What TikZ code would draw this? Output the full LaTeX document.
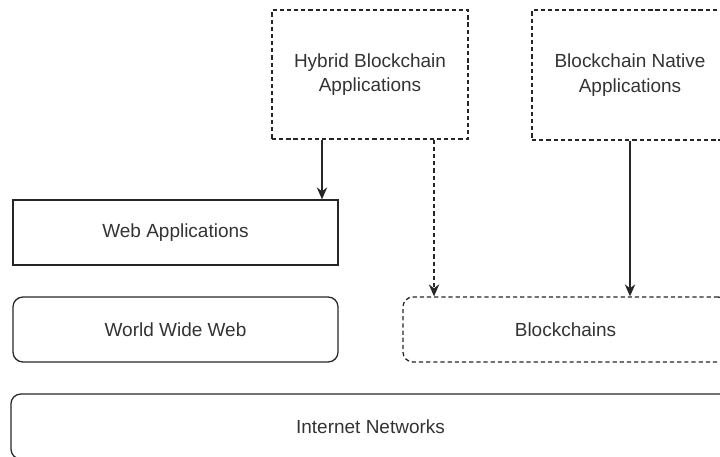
\documentclass[tikz,border=0pt]{standalone}
\usepackage{fontspec}
\setmainfont{Liberation Sans}
\usetikzlibrary{arrows.meta}

\tikzset{
  layerbox/.style={draw=black!85, line width=0.9pt, text=black!80, align=center,
    font=\fontsize{13.5}{17.5}\selectfont, inner sep=0pt},
  dashbox/.style={layerbox, dash pattern=on 3pt off 2.1pt},
  roundbox/.style={layerbox, rounded corners=0.25cm},
  feed/.style={draw=black!85, line width=0.9pt, -{Stealth[length=0.3cm,width=0.26cm]}},
}

\begin{document}
\begin{tikzpicture}[x=0.025cm,y=-0.025cm]
            \useasboundingbox (0,0) rectangle (720,457);
            \clip (0,0) rectangle (720,457);

            % Drawing box Hybrid Blockchain Applications
            \node [dashbox, minimum width=4.9cm, minimum height=3.225cm] (hybrid) at (370,74.5)
              {Hybrid Blockchain\\Applications};%

            % Drawing box Blockchain Native Applications
            \node [dashbox, minimum width=4.9cm, minimum height=3.25cm] (native) at (630,75)
              {Blockchain Native\\Applications};%

            % Drawing box Web Applications
            \node [layerbox, minimum width=8.125cm, minimum height=1.625cm] (webapp) at (175.5,232.5)
              {Web Applications};%

            % Drawing box World Wide Web
            \node [roundbox, minimum width=8.125cm, minimum height=1.625cm] (www) at (175.5,329.5)
              {World Wide Web};%

            % Drawing box Blockchains
            \node [roundbox, dash pattern=on 3pt off 2.1pt, minimum width=8.125cm, minimum height=1.625cm]
              (chains) at (565.5,329.5) {Blockchains};%

            % Drawing box Internet Networks
            \node [roundbox, minimum width=17.975cm, minimum height=1.625cm] (inet) at (370.5,426.5)
              {Internet Networks};%

            % Drawing arrow Hybrid -> Web Applications
            \draw [feed] ([xshift=-1.2cm]hybrid.south) -- ([xshift=-1.2cm]hybrid.south |- webapp.north);%

            % Drawing arrow Hybrid -> Blockchains
            \draw [feed, dash pattern=on 3pt off 2.1pt] ([xshift=1.6cm]hybrid.south)
              -- ([xshift=1.6cm]hybrid.south |- chains.north);%

            % Drawing arrow Native -> Blockchains
            \draw [feed] (native.south) -- (native.south |- chains.north);%
\end{tikzpicture}
\end{document}
